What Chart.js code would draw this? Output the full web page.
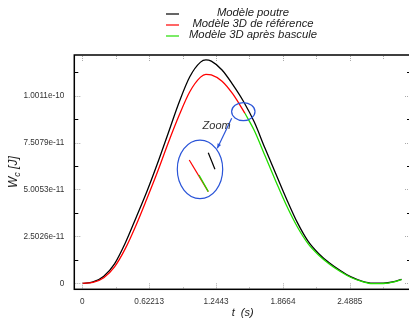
<!DOCTYPE html>
<html>
<head>
<meta charset="utf-8">
<script src="https://cdn.jsdelivr.net/npm/chart.js@4/dist/chart.umd.min.js"></script>
<style>
  html, body { margin: 0; padding: 0; overflow: hidden; background: #fff; }
  #wrap { position: relative; width: 412px; height: 321px; }
</style>
</head>
<body>
<div id="wrap"><canvas id="energie" width="412" height="321"></canvas></div>
<script>
// energie W_c (en 1e-11 J) en fonction du temps t (s)
const seriesNames = ['Modèle poutre', 'Modèle 3D de référence', 'Modèle 3D après bascule'];

const tPoutre = [0, 0.1, 0.2, 0.3, 0.4, 0.5, 0.6, 0.7, 0.8, 0.9, 1.0, 1.1, 1.15, 1.2, 1.3, 1.4, 1.5, 1.6, 1.7, 1.8, 1.9, 2.0, 2.1, 2.2, 2.3, 2.4, 2.5, 2.6, 2.7, 2.8, 2.9, 2.97];
const wPoutre = [0, 0.07, 0.38, 1.04, 2.15, 3.5, 4.88, 6.4, 8.02, 9.65, 11.02, 11.8, 11.92, 11.85, 11.38, 10.6, 9.7, 8.6, 7.2, 5.85, 4.5, 3.25, 2.25, 1.58, 1.08, 0.68, 0.34, 0.12, 0.01, 0.01, 0.09, 0.21];

const tRef = [0, 0.1, 0.2, 0.3, 0.4, 0.5, 0.6, 0.7, 0.8, 0.9, 1.0, 1.1, 1.15, 1.2, 1.3, 1.4, 1.513];
const wRef = [0, 0.05, 0.3, 0.88, 1.85, 3.1, 4.5, 5.95, 7.5, 8.95, 10.22, 11.0, 11.15, 11.12, 10.78, 10.1, 9.07];

const tBascule = [1.513, 1.6, 1.7, 1.8, 1.9, 2.0, 2.1, 2.2, 2.3, 2.4, 2.5, 2.6, 2.7, 2.8, 2.9, 2.97];
const wBascule = [9.07, 8.15, 6.8, 5.45, 4.15, 3.02, 2.12, 1.5, 1.02, 0.63, 0.31, 0.1, -0.02, -0.01, 0.08, 0.2];

const xTicks = [0, 0.62213, 1.2443, 1.8664, 2.4885];
const xTickLabels = ['0', '0.62213', '1.2443', '1.8664', '2.4885'];
const yTicks = [0, 2.5026, 5.0053, 7.5079, 10.011];
const yTickLabels = ['0', '2.5026e-11', '5.0053e-11', '7.5079e-11', '1.0011e-10'];

const colors = ['#000000', '#ff0000', '#22dd00'];
const BLEU = '#2b55d8';
const FONT = '"Liberation Sans", Arial, sans-serif';

// zone agrandie autour du changement de modèle
const zoomAnnot = {
  petit: { t: 1.498, w: 9.16, rx: 11.7, ry: 9 },
  grand: { t: 1.095, w: 6.08, rx: 22.7, ry: 29.3 },
  fleche: [[1.390, 8.80], [1.256, 7.20]],
  texte: [1.250, 8.41],
  segments: [
    { c: 1, p: [[0.995, 6.58], [1.172, 4.89]] },
    { c: 2, p: [[1.086, 5.78], [1.172, 4.89]] },
    { c: 0, p: [[1.172, 6.97], [1.234, 6.08]] }
  ]
};

const pts = (t, w) => t.map((v, i) => ({ x: v, y: w[i] }));

const cadre = {
  id: 'cadre',
  afterDatasetsDraw(chart) {
    const { ctx, chartArea: a, scales: { x, y } } = chart;
    ctx.save();

    // annotations "Zoom"
    ctx.strokeStyle = BLEU;
    ctx.lineWidth = 1.2;
    [zoomAnnot.petit, zoomAnnot.grand].forEach(e => {
      ctx.beginPath();
      ctx.ellipse(x.getPixelForValue(e.t), y.getPixelForValue(e.w), e.rx, e.ry, 0, 0, Math.PI * 2);
      ctx.stroke();
    });
    const [p0, p1] = zoomAnnot.fleche.map(p => [x.getPixelForValue(p[0]), y.getPixelForValue(p[1])]);
    ctx.beginPath();
    ctx.moveTo(p0[0], p0[1]);
    ctx.lineTo(p1[0], p1[1]);
    ctx.stroke();
    const ang = Math.atan2(p1[1] - p0[1], p1[0] - p0[0]);
    ctx.fillStyle = BLEU;
    ctx.beginPath();
    ctx.moveTo(p1[0], p1[1]);
    ctx.lineTo(p1[0] - 5 * Math.cos(ang - 0.4), p1[1] - 5 * Math.sin(ang - 0.4));
    ctx.lineTo(p1[0] - 5 * Math.cos(ang + 0.4), p1[1] - 5 * Math.sin(ang + 0.4));
    ctx.closePath();
    ctx.fill();
    zoomAnnot.segments.forEach(s => {
      ctx.strokeStyle = colors[s.c];
      ctx.beginPath();
      ctx.moveTo(x.getPixelForValue(s.p[0][0]), y.getPixelForValue(s.p[0][1]));
      ctx.lineTo(x.getPixelForValue(s.p[1][0]), y.getPixelForValue(s.p[1][1]));
      ctx.stroke();
    });
    ctx.fillStyle = '#333';
    ctx.font = 'italic 11px ' + FONT;
    ctx.textAlign = 'center';
    ctx.textBaseline = 'middle';
    ctx.fillText('Zoom', x.getPixelForValue(zoomAnnot.texte[0]), y.getPixelForValue(zoomAnnot.texte[1]));

    // graduations
    ctx.lineWidth = 1;
    ctx.setLineDash([1, 1]);
    ctx.strokeStyle = '#aaa';
    yTicks.forEach(v => {
      const py = Math.round(y.getPixelForValue(v)) + 0.5;
      ctx.beginPath();
      ctx.moveTo(a.left + 1, py); ctx.lineTo(a.left + 6, py);
      ctx.moveTo(a.right - 1, py); ctx.lineTo(a.right - 6, py);
      ctx.stroke();
    });
    xTicks.forEach(v => {
      const px = Math.round(x.getPixelForValue(v)) + 0.5;
      ctx.beginPath();
      ctx.moveTo(px, a.bottom - 1); ctx.lineTo(px, a.bottom - 6);
      ctx.moveTo(px, a.top + 1); ctx.lineTo(px, a.top + 6);
      ctx.stroke();
      const m = Math.round(x.getPixelForValue(v + xTicks[1] / 2)) + 0.5;
      ctx.beginPath();
      ctx.moveTo(m, a.bottom - 1); ctx.lineTo(m, a.bottom - 3);
      ctx.moveTo(m, a.top + 1); ctx.lineTo(m, a.top + 4);
      ctx.stroke();
    });
    ctx.setLineDash([]);
    ctx.strokeStyle = '#000';
    yTicks.forEach(v => {
      const py = Math.round(y.getPixelForValue(v + yTicks[1] / 2)) + 0.5;
      ctx.beginPath();
      ctx.moveTo(a.left, py); ctx.lineTo(a.left + 4, py);
      ctx.moveTo(a.right, py); ctx.lineTo(a.right - 4, py);
      ctx.stroke();
    });

    // cadre
    ctx.lineWidth = 1.5;
    ctx.strokeRect(a.left, a.top, a.right - a.left, a.bottom - a.top);

    // titres des axes
    ctx.fillStyle = '#222';
    ctx.font = 'italic 11px ' + FONT;
    ctx.textAlign = 'center';
    ctx.textBaseline = 'middle';
    ctx.fillText('t  (s)', (a.left + a.right) / 2, 313);

    ctx.save();
    ctx.translate(14, (a.top + a.bottom) / 2);
    ctx.rotate(-Math.PI / 2);
    ctx.textAlign = 'left';
    ctx.font = 'italic 12px ' + FONT;
    const w1 = ctx.measureText('W').width;
    const w3 = ctx.measureText(' [J]').width;
    ctx.font = 'italic 9px ' + FONT;
    const w2 = ctx.measureText('c').width;
    const x0 = -(w1 + w2 + w3) / 2;
    ctx.font = 'italic 12px ' + FONT;
    ctx.fillText('W', x0, 0);
    ctx.fillText(' [J]', x0 + w1 + w2, 0);
    ctx.font = 'italic 9px ' + FONT;
    ctx.fillText('c', x0 + w1, 3);
    ctx.restore();

    // légende
    chart.data.datasets.forEach((ds, i) => {
      const ly = 13 + i * 11;
      ctx.strokeStyle = ds.borderColor;
      ctx.lineWidth = 1.2;
      ctx.beginPath();
      ctx.moveTo(166, ly + 1); ctx.lineTo(179, ly + 1);
      ctx.stroke();
      ctx.fillStyle = '#222';
      ctx.font = 'italic 11.3px ' + FONT;
      ctx.textAlign = 'center';
      ctx.fillText(ds.label, 253, ly);
    });
    ctx.restore();
  }
};

new Chart(document.getElementById('energie'), {
  type: 'line',
  data: {
    datasets: [
      { label: seriesNames[0], data: pts(tPoutre, wPoutre), borderColor: colors[0], order: 3 },
      { label: seriesNames[1], data: pts(tRef, wRef), borderColor: colors[1], order: 2 },
      { label: seriesNames[2], data: pts(tBascule, wBascule), borderColor: colors[2], order: 1 }
    ].map(d => Object.assign(d, { borderWidth: 1.3, pointRadius: 0, fill: false, cubicInterpolationMode: 'monotone' }))
  },
  options: {
    responsive: false,
    animation: false,
    devicePixelRatio: 1,
    layout: { padding: { top: 55, right: 1, left: 0, bottom: 0 } },
    plugins: { legend: { display: false }, tooltip: { enabled: false } },
    scales: {
      x: {
        type: 'linear',
        min: -0.0744,
        max: 3.058,
        afterBuildTicks: s => { s.ticks = xTicks.map(v => ({ value: v })); },
        afterFit: s => { s.height = 31.7; },
        grid: { display: false, drawTicks: false },
        border: { display: false },
        ticks: {
          callback: v => xTickLabels[xTicks.indexOf(v)],
          font: { size: 8.2, family: FONT },
          color: '#333',
          padding: 8,
          maxRotation: 0,
          autoSkip: false
        }
      },
      y: {
        type: 'linear',
        min: -0.32,
        max: 12.18,
        afterBuildTicks: s => { s.ticks = yTicks.map(v => ({ value: v })); },
        afterFit: s => { s.width = 74.3; },
        grid: { display: false, drawTicks: false },
        border: { display: false },
        ticks: {
          callback: v => yTickLabels[yTicks.indexOf(v)],
          font: { size: 8.2, family: FONT },
          color: '#333',
          padding: 10,
          autoSkip: false
        }
      }
    }
  },
  plugins: [cadre]
});
</script>
</body>
</html>
